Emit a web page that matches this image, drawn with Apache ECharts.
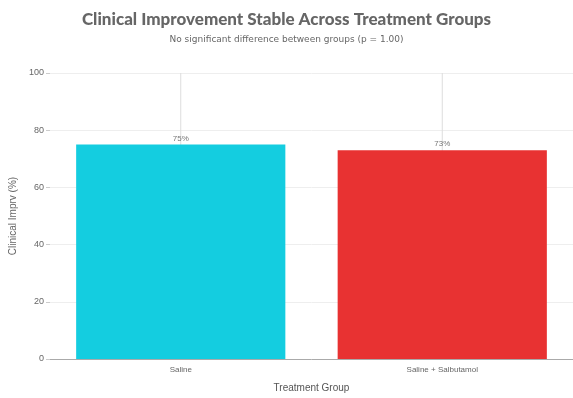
<!DOCTYPE html>
<html>
<head>
<meta charset="utf-8">
<script src="https://cdn.jsdelivr.net/npm/echarts@6/dist/echarts.min.js"></script>
<style>
  html, body { margin: 0; padding: 0; background: #fff; overflow: hidden; }
  #main { width: 573px; height: 398px; }
</style>
</head>
<body>
<div id="main"></div>
<script>
  // data
  var groups = ['Saline', 'Saline + Salbutamol'];
  var improvement = [75, 73];
  var errLow = [55, 50];
  var errHigh = [100, 100];
  var barColors = ['#14cde0', '#e83232'];
  var yTicks = [0, 20, 40, 60, 80, 100];

  var chart = echarts.init(document.getElementById('main'));

  chart.setOption({
    animation: false,
    title: {
      text: 'Clinical Improvement Stable Across Treatment Groups',
      subtext: 'No significant difference between groups (p = 1.00)',
      left: 'center',
      top: 6,
      itemGap: 7,
      textStyle: { fontFamily: 'Lato', fontWeight: 900, fontSize: 17, color: '#666' },
      subtextStyle: { fontFamily: 'DejaVu Sans', fontSize: 9, color: '#666' }
    },
    grid: { left: 47, right: 0, top: 73, bottom: 33 },
    xAxis: {
      type: 'category',
      data: groups,
      name: 'Treatment Group',
      nameLocation: 'middle',
      nameGap: 24,
      nameTextStyle: { fontSize: 10, color: '#555' },
      axisLine: { lineStyle: { color: '#aaa' } },
      axisTick: { alignWithLabel: true, length: 3, lineStyle: { color: '#ccc' } },
      axisLabel: { fontSize: 8, color: '#666', margin: 7 }
    },
    yAxis: {
      type: 'value',
      min: yTicks[0],
      max: yTicks[yTicks.length - 1],
      interval: 20,
      name: 'Clinical Imprv (%)',
      nameLocation: 'middle',
      nameGap: 32,
      nameTextStyle: { fontSize: 10, color: '#666' },
      axisLine: { show: false },
      axisTick: { show: true, length: 4, lineStyle: { color: '#ccc' } },
      axisLabel: { fontSize: 9, color: '#666', margin: 6 },
      splitLine: { lineStyle: { color: '#eee' } }
    },
    series: [
      {
        type: 'custom',
        z: 1,
        data: groups.map(function (g, i) { return [i, errLow[i], errHigh[i]]; }),
        renderItem: function (params, api) {
          var lo = api.coord([api.value(0), api.value(1)]);
          var hi = api.coord([api.value(0), api.value(2)]);
          return {
            type: 'line',
            shape: { x1: lo[0], y1: lo[1], x2: hi[0], y2: hi[1] },
            style: { stroke: '#ddd', lineWidth: 1 }
          };
        }
      },
      {
        type: 'bar',
        z: 2,
        barWidth: '80%',
        data: improvement.map(function (v, i) {
          return { value: v, itemStyle: { color: barColors[i] } };
        }),
        label: {
          show: true,
          position: 'top',
          distance: 2,
          fontSize: 8,
          color: '#777',
          formatter: '{c}%'
        }
      }
    ]
  });
</script>
</body>
</html>
